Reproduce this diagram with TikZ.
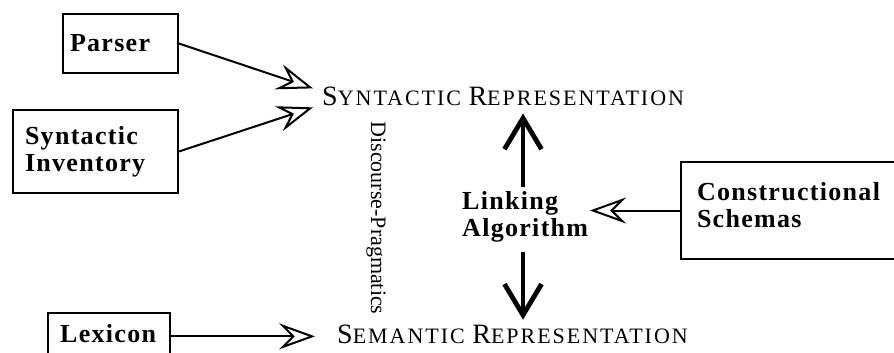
\documentclass[tikz,border=0pt]{standalone}
\usepackage{fontspec}
\setmainfont{Liberation Serif}
\newfontfamily\bx{Liberation Serif}[LetterSpace=5]
\newfontfamily\scf{Liberation Serif}[LetterSpace=9]
\usetikzlibrary{arrows.meta}
\newcommand\mysc[2]{{\fontsize{28}{30}\selectfont #1}{\fontsize{22}{30}\selectfont #2}}
\begin{document}
\begin{tikzpicture}[x=1pt,y=-1pt,
  bfont/.style={font=\bx\bfseries\fontsize{26}{27}\selectfont},
  box/.style={draw, line width=1.8pt, align=left, inner ysep=0pt, bfont},
  openarrow/.style={line width=2pt, -{Stealth[open, length=36pt, width=26pt, inset=13pt]}},
  bigarrow/.style={line width=3.5pt, -{Straight Barb[length=31pt, width=37pt, line width=4.8pt]}},
  sctext/.style={font=\scf\fontsize{22}{26}\selectfont, anchor=base west}
  ]
\useasboundingbox (0,0) rectangle (894,353);
\clip (0,0) rectangle (894,353);

% boxes
\node[box, text width=101pt, inner xsep=7pt, minimum height=59pt] (parser) at (120.5,43.5) {Parser};
\node[box, text width=141pt, inner xsep=12pt, minimum height=83pt] (inv) at (95.5,151.5) {Syntactic\\Inventory};
\node[box, text width=207pt, inner xsep=16pt, minimum height=97pt] (cons) at (800.5,210.5) {Constructional\\Schemas\rule[-12pt]{0pt}{12pt}};
\node[draw, line width=1.8pt, minimum width=122pt, minimum height=62pt, inner sep=0pt] (lexbox) at (109,344) {};
\node[bfont, anchor=base west, inner sep=0pt] (lex) at (60,342) {Lexicon};

% representations
\node[sctext, inner xsep=9pt, inner ysep=8pt] (syn) at (313,105) {\mysc{S}{YNTACTIC} \mysc{R}{EPRESENTATION}};
\node[sctext, inner xsep=22pt, inner ysep=4.5pt] (sem) at (315,343) {\mysc{S}{EMANTIC} \mysc{R}{EPRESENTATION}};

% discourse-pragmatics
\node[rotate=-90, font=\fontsize{22}{26}\selectfont, inner sep=0pt] (dp) at (376,218) {Discourse-Pragmatics};

% linking algorithm
\node[bfont, align=left, anchor=north west, inner sep=0pt] (link) at (462,191) {Linking\\Algorithm};

% connectors
\draw[openarrow] (parser.east) -- ([yshift=7.5pt]syn.west);
\draw[openarrow] (inv.east) -- ([yshift=-11.5pt]syn.west);
\coordinate (semin) at ([yshift=-2.5pt]sem.west);
\draw[openarrow] (semin -| lexbox.east) -- (semin);
\coordinate (linkin) at (590,0);
\draw[openarrow] (cons.west) -- (cons.west -| linkin);
\coordinate (axtop) at (523,187);
\coordinate (axbot) at (523,252);
\draw[bigarrow] (axtop) -- (axtop |- syn.south);
\draw[bigarrow] (axbot) -- (axbot |- sem.north);
\end{tikzpicture}
\end{document}
